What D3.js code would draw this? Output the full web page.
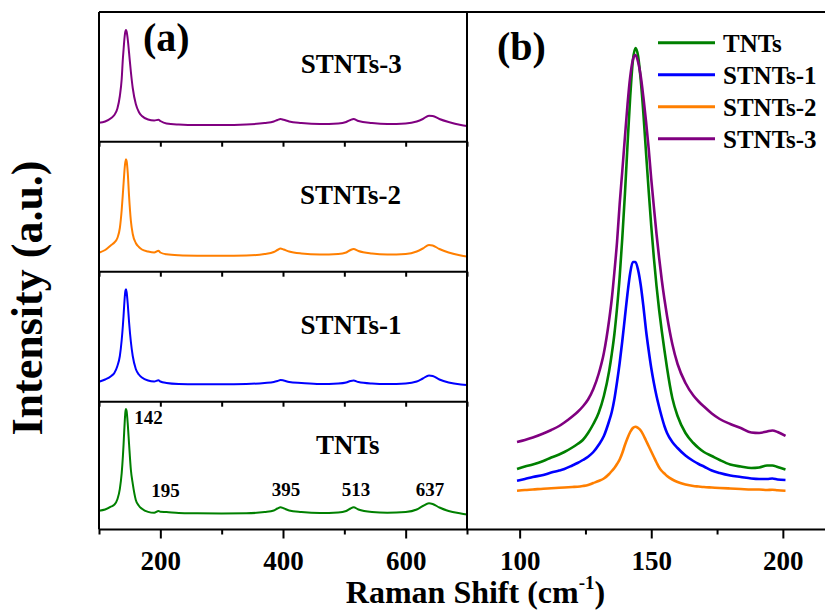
<!DOCTYPE html>
<html><head><meta charset="utf-8">
<script src="https://cdn.jsdelivr.net/npm/d3@7"></script>
<style>
body{margin:0;background:#fff}
svg{display:block;background:#fff}
text{font-family:"Liberation Serif","Times New Roman",serif;font-weight:bold;fill:#000}
</style>
</head><body><svg id="c" width="825" height="611"></svg>
<script>
// ---------- DATA ----------
const seriesNames = ["TNTs", "STNTs-1", "STNTs-2", "STNTs-3"];
const seriesColors = ["#008000", "#0000FF", "#FF7F00", "#800080"];

// Panel (a): full spectra (Raman shift, cm^-1)
const aX = [100,110,120,125,130,134,137,139,140,141,142,143,144,145,147,149,152,155,160,165,170,180,190,197,200,210,230,260,300,340,370,385,391,396,401,410,430,460,490,503,510,515,523,545,570,600,618,628,638,644,655,670,690,700];
const aTNTs   = [188,200,230,248,303,407,563,736,844,968,1084,1173,1205,1185,1045,855,595,459,296,237,207,176,167,185,178,175,165,162,160,162,175,190,210,222,212,190,175,165,170,185,210,222,200,175,168,175,200,235,262,255,220,185,160,150];
const aSTNTs1 = [200,222,257,287,357,457,617,767,857,957,1047,1107,1124,1097,967,797,597,457,327,272,242,212,202,214,202,187,177,174,174,177,187,197,207,217,212,197,187,177,182,192,207,212,197,182,177,182,202,232,262,257,222,192,172,167];
const aSTNTs2 = [190,217,267,292,337,437,617,787,877,967,1047,1097,1124,1107,977,757,507,377,287,247,222,202,192,210,192,174,164,160,159,162,177,197,217,232,222,202,182,172,177,192,217,227,207,182,172,177,202,232,267,262,227,192,162,152];
const aSTNTs3 = [190,202,237,267,332,457,627,837,917,997,1062,1102,1117,1102,1017,890,697,537,377,297,257,222,212,219,207,182,172,167,167,172,187,202,217,227,219,202,187,177,182,197,217,227,207,187,177,182,202,227,260,257,227,197,167,157];

// Panel (b): zoom on the Eg(1) mode
const bX = [99,102,105,109,112,115,117,120,122,124,126,128,130,132,134,135,136,137,138,139,140,141,142,143,144,145,146,147,148,149,150,151,152,153,154,155,156,158,160,163,166,168,170,173,176,180,184,188,191,194,196,198,201];
const bTNTs   = [600,625,645,680,715,745,770,815,850,890,960,1050,1160,1330,1580,1750,1950,2210,2520,2910,3350,3850,4320,4680,4810,4730,4490,4160,3770,3390,3030,2710,2430,2190,1980,1790,1610,1310,1130,960,860,810,770,730,690,645,625,610,615,635,635,620,595];
const bSTNTs1 = [483,500,520,540,565,585,600,635,660,690,723,770,840,930,1080,1170,1300,1470,1660,1880,2120,2360,2560,2670,2670,2590,2440,2230,1990,1790,1610,1460,1330,1220,1120,1030,960,870,810,735,680,650,625,585,560,535,520,505,500,500,505,495,490];
const bSTNTs2 = [383,390,395,403,407,412,415,420,423,430,440,460,480,505,550,580,610,650,695,760,840,910,970,1010,1023,1010,985,940,885,830,775,720,665,615,580,555,530,495,470,445,430,425,420,415,410,405,400,395,395,390,393,387,383];
const bSTNTs3 = [870,890,915,955,990,1030,1065,1125,1170,1225,1295,1400,1550,1760,2090,2300,2570,2870,3250,3580,3920,4250,4520,4690,4740,4670,4530,4320,4080,3810,3500,3220,2950,2710,2490,2300,2130,1850,1650,1460,1335,1275,1225,1155,1100,1050,1010,965,960,975,985,970,930];

// Axis ticks
const aMajorTicks = [200, 400, 600];
const aMinorTicks = [100, 300, 500, 700];
const bMajorTicks = [100, 150, 200];
const bMinorTicks = [125, 175];

// Peak annotations (TNTs)
const peakValues = [142, 195, 395, 513, 637];

// ---------- LAYOUT ----------
const W = 825, H = 611;
const L = 99, MID = 467, R = 835.5, T = 12, B = 529.5;
const bandBottoms = [141.7, 271.7, 401.7, 529.5];  // STNTs-3, STNTs-2, STNTs-1, TNTs
const bandHeight = 130;
const bandLabelPos = [[300.7, 72.7], [300, 204], [300.5, 334], [316, 454.3]];
const peakLabelDx = [23.7, 8.2, 6.1, 3.7, 1.7];
const peakLabelY = [424.3, 496.7, 496, 495.5, 496];

const svg = d3.select("#c");
svg.append("rect").attr("width", W).attr("height", H).attr("fill", "#fff");

const xa = d3.scaleLinear().domain([100, 700]).range([L, MID]);
const xb = d3.scaleLinear().domain([80, 220]).range([MID, R]);
const yb = d3.scaleLinear().domain([0, 5170]).range([529, 12]);

// ---------- PANEL (a) ----------
const aSeries = [aSTNTs3, aSTNTs2, aSTNTs1, aTNTs];
const aColors = [seriesColors[3], seriesColors[2], seriesColors[1], seriesColors[0]];
const aNames = [seriesNames[3], seriesNames[2], seriesNames[1], seriesNames[0]];

aSeries.forEach((vals, i) => {
  const bot = bandBottoms[i];
  const y = d3.scaleLinear().domain([0, 1300]).range([bot, bot - bandHeight]);
  const line = d3.line().x((d, k) => xa(aX[k])).y(d => y(d)).curve(d3.curveMonotoneX);
  svg.append("path").datum(vals).attr("d", line)
    .attr("fill", "none").attr("stroke", aColors[i]).attr("stroke-width", 2)
    .attr("stroke-linejoin", "round");
  svg.append("text").attr("x", bandLabelPos[i][0]).attr("y", bandLabelPos[i][1])
    .attr("font-size", 27).text(aNames[i]);
});

// inner divider axes (ticks only, pointing down)
bandBottoms.slice(0, 3).forEach(bot => {
  const g = svg.append("g").attr("transform", `translate(0,${bot})`)
    .call(d3.axisBottom(xa).tickValues(aMajorTicks.concat(aMinorTicks)).tickSize(5).tickFormat(""));
  g.select(".domain").remove();
  g.selectAll("line").attr("stroke", "#000").attr("stroke-width", 2);
  svg.append("line").attr("x1", L).attr("x2", MID).attr("y1", bot).attr("y2", bot)
    .attr("stroke", "#000").attr("stroke-width", 2);
});

// bottom axes
function bottomAxis(scale, major, minor) {
  const gm = svg.append("g").attr("transform", `translate(0,${B})`)
    .call(d3.axisBottom(scale).tickValues(minor).tickSize(5).tickFormat(""));
  gm.select(".domain").remove();
  gm.selectAll("line").attr("stroke", "#000").attr("stroke-width", 2);
  const g = svg.append("g").attr("transform", `translate(0,${B})`)
    .call(d3.axisBottom(scale).tickValues(major).tickSize(9).tickFormat(d3.format("d")));
  g.select(".domain").remove();
  g.selectAll("line").attr("stroke", "#000").attr("stroke-width", 2);
  g.selectAll("text").attr("y", 40.5).attr("dy", null)
    .attr("font-size", 27).attr("font-family", '"Liberation Serif","Times New Roman",serif')
    .attr("font-weight", "bold").attr("fill", "#000");
}
bottomAxis(xa, aMajorTicks, aMinorTicks);

// peak labels
peakValues.forEach((v, i) => {
  svg.append("text").attr("x", xa(v) + peakLabelDx[i]).attr("y", peakLabelY[i])
    .attr("text-anchor", "middle").attr("font-size", 19).text(v);
});

// ---------- PANEL (b) ----------
const bSeries = [bTNTs, bSTNTs1, bSTNTs2, bSTNTs3];
const drawOrder = [2, 1, 0, 3];
drawOrder.forEach(i => {
  const line = d3.line().x((d, k) => xb(bX[k])).y(d => yb(d)).curve(d3.curveMonotoneX);
  svg.append("path").datum(bSeries[i]).attr("d", line)
    .attr("fill", "none").attr("stroke", seriesColors[i]).attr("stroke-width", 2.6)
    .attr("stroke-linejoin", "round");
});
bottomAxis(xb, bMajorTicks, bMinorTicks);

// legend
seriesNames.forEach((n, i) => {
  const ly = 42.7 + i * 32;
  svg.append("line").attr("x1", 658).attr("x2", 715).attr("y1", ly).attr("y2", ly)
    .attr("stroke", seriesColors[i]).attr("stroke-width", 3);
  svg.append("text").attr("x", 723).attr("y", ly + 9.3).attr("font-size", 25).text(n);
});

// ---------- FRAMES ----------
const frame = svg.append("g").attr("stroke", "#000").attr("stroke-width", 2).attr("fill", "none");
frame.append("line").attr("x1", L).attr("x2", W + 5).attr("y1", T).attr("y2", T);
frame.append("line").attr("x1", L).attr("x2", W + 5).attr("y1", B).attr("y2", B);
frame.append("line").attr("x1", L).attr("x2", L).attr("y1", T).attr("y2", B);
frame.append("line").attr("x1", MID).attr("x2", MID).attr("y1", T).attr("y2", B);
frame.append("line").attr("x1", R).attr("x2", R).attr("y1", T).attr("y2", B);

// panel letters
svg.append("text").attr("x", 143).attr("y", 51).attr("font-size", 40).text("(a)");
svg.append("text").attr("x", 497).attr("y", 60).attr("font-size", 40).text("(b)");

// axis titles
const xt = svg.append("text").attr("x", 475.5).attr("y", 603).attr("text-anchor", "middle").attr("font-size", 32);
xt.append("tspan").text("Raman Shift (cm");
xt.append("tspan").attr("font-size", 19).attr("dy", -14).text("-1");
xt.append("tspan").attr("dy", 14).text(")");

svg.append("text").attr("transform", "translate(42,298) rotate(-90)")
  .attr("text-anchor", "middle").attr("font-size", 44).text("Intensity (a.u.)");
</script>
</body></html>
